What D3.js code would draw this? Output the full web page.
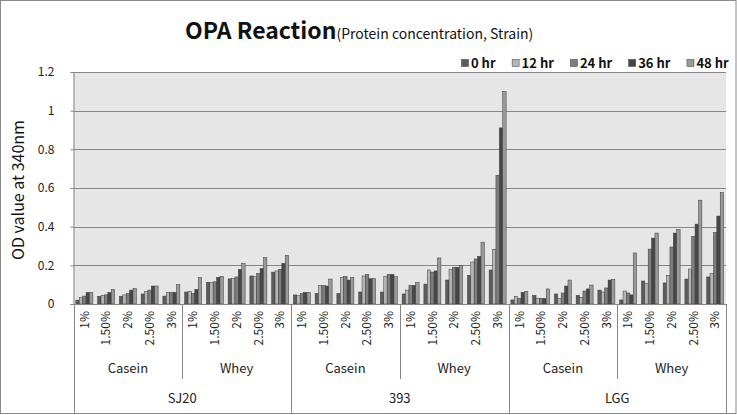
<!DOCTYPE html>
<html>
<head>
<meta charset="utf-8">
<script src="https://cdn.jsdelivr.net/npm/d3@7"></script>
<style>
  html, body { margin: 0; padding: 0; background: #fff; }
  svg { display: block; }
  text { font-family: "Noto Sans CJK KR", "Noto Sans", sans-serif; }
</style>
</head>
<body>
<svg id="chart" width="737" height="415"></svg>
<script>
// ---- data ----
const strains = ["SJ20", "393", "LGG"];
const proteins = ["Casein", "Whey"];
const concentrations = ["1%", "1.50%", "2%", "2.50%", "3%"];
const seriesNames = ["0 hr", "12 hr", "24 hr", "36 hr", "48 hr"];
const seriesColors = ["#5c5c5c", "#b5b5b5", "#7e7e7e", "#474747", "#9a9a9a"];
const yTicks = [0, 0.2, 0.4, 0.6, 0.8, 1, 1.2];

// values in category order: strain > protein > concentration
const hr0  = [0.020,0.040,0.040,0.052,0.041, 0.062,0.112,0.130,0.145,0.165, 0.047,0.055,0.055,0.062,0.062, 0.052,0.103,0.124,0.148,0.176, 0.021,0.045,0.052,0.045,0.072, 0.021,0.119,0.109,0.129,0.140];
const hr12 = [0.033,0.045,0.047,0.065,0.060, 0.065,0.112,0.133,0.141,0.171, 0.043,0.096,0.136,0.145,0.143, 0.072,0.176,0.179,0.217,0.283, 0.040,0.029,0.029,0.034,0.062, 0.067,0.107,0.148,0.181,0.158];
const hr24 = [0.041,0.047,0.055,0.072,0.060, 0.055,0.115,0.140,0.158,0.179, 0.055,0.096,0.143,0.153,0.153, 0.096,0.165,0.190,0.233,0.666, 0.029,0.029,0.057,0.067,0.083, 0.057,0.284,0.295,0.350,0.370];
const hr36 = [0.060,0.060,0.072,0.093,0.060, 0.076,0.138,0.179,0.184,0.210, 0.060,0.093,0.124,0.131,0.153, 0.096,0.171,0.190,0.246,0.911, 0.060,0.029,0.093,0.078,0.124, 0.047,0.341,0.367,0.413,0.455];
const hr48 = [0.060,0.076,0.081,0.093,0.100, 0.136,0.143,0.210,0.241,0.252, 0.060,0.129,0.138,0.131,0.141, 0.112,0.238,0.200,0.320,1.100, 0.065,0.078,0.124,0.098,0.128, 0.264,0.367,0.386,0.537,0.577];
const seriesValues = [hr0, hr12, hr24, hr36, hr48];

// ---- build categories ----
const categories = [];
strains.forEach(s => proteins.forEach(p => concentrations.forEach(c => {
  categories.push({ id: s + "|" + p + "|" + c, strain: s, protein: p, conc: c });
})));

const svg = d3.select("#chart");
const W = 737, H = 415;
const plot = { left: 73.5, right: 726, top: 72, bottom: 304 };

// outer border
svg.append("rect").attr("x", 0.5).attr("y", 0.5).attr("width", W - 1.5).attr("height", 413)
  .attr("fill", "#fff").attr("stroke", "#8a8a8a").attr("stroke-width", 1);

const x0 = d3.scaleBand().domain(categories.map(d => d.id)).range([plot.left, plot.right]).padding(0);
const x1 = d3.scaleBand().domain(seriesNames).range([0, x0.bandwidth()]).paddingInner(0).paddingOuter(0.7);
const y = d3.scaleLinear().domain([0, 1.2]).range([plot.bottom, plot.top]);

// plot background
svg.append("rect").attr("x", plot.left).attr("y", plot.top)
  .attr("width", plot.right - plot.left).attr("height", plot.bottom - plot.top)
  .attr("fill", "#e6e6e6");

// gridlines
svg.append("g").selectAll("line").data(yTicks.filter(t => t > 0)).join("line")
  .attr("x1", plot.left).attr("x2", plot.right)
  .attr("y1", d => Math.round(y(d)) + 0.5).attr("y2", d => Math.round(y(d)) + 0.5)
  .attr("stroke", "#868686").attr("stroke-width", 1);

// y axis
const yAxis = svg.append("g").attr("transform", `translate(${plot.left},0)`)
  .call(d3.axisLeft(y).tickValues(yTicks).tickFormat(d => d3.format("")(+d.toFixed(1))).tickSize(3).tickPadding(16));
yAxis.select(".domain").attr("stroke", "#868686");
yAxis.selectAll(".tick line").attr("stroke", "#868686");
yAxis.selectAll("text").attr("font-size", 12).attr("fill", "#222").attr("font-family", "Noto Sans CJK KR, Noto Sans, sans-serif");

// bars
const barG = svg.append("g");
seriesNames.forEach((name, si) => {
  barG.append("g").selectAll("rect").data(categories.map((c, i) => ({ c, v: seriesValues[si][i] }))).join("rect")
    .attr("x", d => x0(d.c.id) + x1(name))
    .attr("y", d => y(d.v))
    .attr("width", x1.bandwidth())
    .attr("height", d => y(0) - y(d.v))
    .attr("fill", seriesColors[si])
    .attr("stroke", "#3a3a3a").attr("stroke-width", 0.5);
});

// x axis baseline
svg.append("line").attr("x1", plot.left).attr("x2", plot.right)
  .attr("y1", plot.bottom + 0.5).attr("y2", plot.bottom + 0.5).attr("stroke", "#868686");

// category labels (rotated)
const xAxis = svg.append("g").attr("transform", `translate(0,${plot.bottom})`)
  .call(d3.axisBottom(x0).tickSize(0).tickFormat(id => id.split("|")[2]));
xAxis.select(".domain").remove();
xAxis.selectAll(".tick text")
  .attr("font-size", 12).attr("fill", "#222")
  .attr("font-family", "Noto Sans CJK KR, Noto Sans, sans-serif")
  .attr("text-anchor", "end").attr("x", 0).attr("y", 0).attr("dy", "0.35em")
  .attr("transform", "translate(0,7) rotate(-90)");

// group separators
const bounds = d3.range(0, categories.length + 1);
const sepG = svg.append("g").attr("stroke", "#868686").attr("stroke-width", 1);
bounds.forEach(i => {
  const xx = i < categories.length ? x0(categories[i].id) : plot.right;
  const px = Math.round(xx) + 0.5;
  if (i % 10 === 0) {
    sepG.append("line").attr("x1", px).attr("x2", px).attr("y1", plot.bottom).attr("y2", 413);
  } else if (i % 5 === 0) {
    sepG.append("line").attr("x1", px).attr("x2", px).attr("y1", plot.bottom).attr("y2", 379);
  }
});

// protein labels
strains.forEach(s => proteins.forEach(p => {
  const ids = categories.filter(c => c.strain === s && c.protein === p).map(c => c.id);
  const cx = (x0(ids[0]) + x0(ids[ids.length - 1]) + x0.bandwidth()) / 2;
  svg.append("text").attr("x", cx).attr("y", 368).attr("dy", "0.35em")
    .attr("text-anchor", "middle").attr("font-size", 13).attr("fill", "#222").text(p);
}));
// strain labels
strains.forEach(s => {
  const ids = categories.filter(c => c.strain === s).map(c => c.id);
  const cx = (x0(ids[0]) + x0(ids[ids.length - 1]) + x0.bandwidth()) / 2;
  svg.append("text").attr("x", cx).attr("y", 398).attr("dy", "0.35em")
    .attr("text-anchor", "middle").attr("font-size", 13).attr("fill", "#222").text(s);
});

// y axis title
svg.append("text").attr("transform", "translate(18,190) rotate(-90)")
  .attr("text-anchor", "middle").attr("dy", "0.35em")
  .attr("font-size", 16).attr("fill", "#111").text("OD value at 340nm");

// title
const title = svg.append("text").attr("x", 185).attr("y", 39).attr("fill", "#111");
title.append("tspan").attr("font-size", 23).attr("font-weight", "bold").text("OPA Reaction");
title.append("tspan").attr("font-size", 14).text("(Protein concentration, Strain)");

// legend
const legend = svg.append("g");
let lx = 461;
seriesNames.forEach((name, i) => {
  const g = legend.append("g").attr("transform", `translate(${lx},0)`);
  g.append("rect").attr("x", 0.5).attr("y", 59.5).attr("width", 7).attr("height", 7)
    .attr("fill", seriesColors[i]).attr("stroke", "#3a3a3a").attr("stroke-width", 0.5);
  const t = g.append("text").attr("x", 10).attr("y", 63).attr("dy", "0.35em")
    .attr("font-size", 13).attr("font-weight", "bold").attr("fill", "#111").text(name);
  lx += 10 + t.node().getComputedTextLength() + 16;
});
</script>
</body>
</html>
